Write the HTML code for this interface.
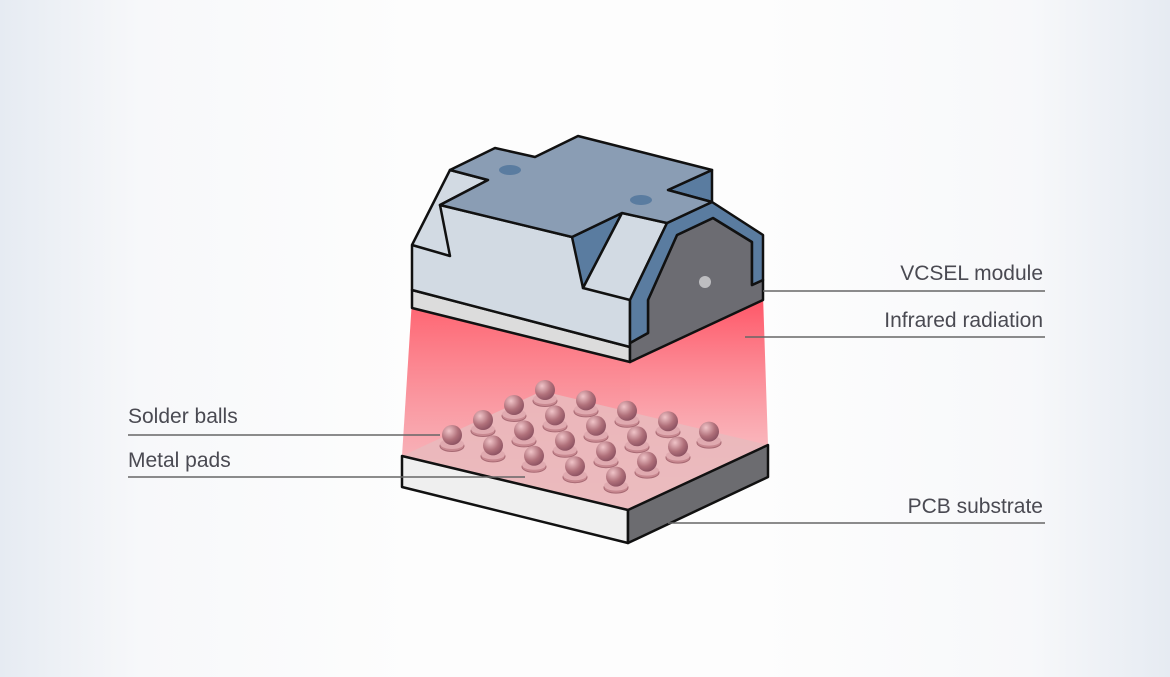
<!DOCTYPE html>
<html><head><style>
html,body{margin:0;padding:0}
body{width:1170px;height:677px;overflow:hidden;background:linear-gradient(90deg,#e6ebf2 0%,#f7f8fa 12%,#fdfdfd 35%,#fdfdfd 65%,#f7f8fa 88%,#e6ebf2 100%);font-family:"Liberation Sans",sans-serif}
.t{position:absolute;font-size:21px;color:#4a4a52;white-space:nowrap}
</style></head><body>
<svg width="1170" height="677" style="position:absolute;left:0;top:0">
<defs>
<linearGradient id="beam" x1="0" y1="0" x2="0" y2="1">
<stop offset="0" stop-color="#ff5a68" stop-opacity="0.95"/>
<stop offset="1" stop-color="#f3a0a8" stop-opacity="0.6"/>
</linearGradient>
<linearGradient id="beamR" x1="0" y1="0" x2="0" y2="1">
<stop offset="0" stop-color="#ff4a5c" stop-opacity="0.95"/>
<stop offset="1" stop-color="#f5a8ae" stop-opacity="0.5"/>
</linearGradient>
<radialGradient id="ball" cx="0.35" cy="0.3" r="0.75">
<stop offset="0" stop-color="#f0c4c8"/><stop offset="0.6" stop-color="#b0707a"/><stop offset="1" stop-color="#8a5060"/>
</radialGradient>
</defs>
<!-- beam -->
<polygon points="412,300 630,355 630,510 402,456" fill="url(#beam)"/>
<polygon points="630,355 763,295 768,445 630,510" fill="url(#beamR)"/>
<!-- PCB -->
<polygon points="402,456 542,391 768,445 628,510" fill="#e9b9bd" opacity="0.9"/>
<polygon points="402,456 628,510 628,543 402,487" fill="#efefef" stroke="#111" stroke-width="2.5" stroke-linejoin="round"/>
<polygon points="628,510 768,445 768,477 628,543" fill="#6c6c70" stroke="#111" stroke-width="2.5" stroke-linejoin="round"/>
<g id="balls"></g>
<!-- module -->
<g stroke="#111" stroke-width="2.5" stroke-linejoin="round">
<polygon points="412,290 630,347 630,362 412,308" fill="#dcdcdc"/>
<polygon points="412,245 450,170 488,180 440,205 572,237 622,213 667,223 630,300 630,347 412,290" fill="#d2dae3"/>
<polyline points="440,205 450,256 412,245" fill="none"/>
<polygon points="572,237 622,213 583,288" fill="#5a7ca0"/>
<polygon points="622,213 667,223 630,300 583,288" fill="#d2dae3"/>
<polygon points="630,343 648,333 648,300 677,235 713,218 752,242 752,285 763,280 763,300 630,362" fill="#6c6c72"/>
<polygon points="630,300 667,223 712,202 763,235 763,280 752,285 752,242 713,218 677,235 648,300 648,333 630,343" fill="#5a7ca0"/>
<polygon points="712,170 668,190 712,202" fill="#5a7ca0"/>
<polygon points="450,170 495,148 535,157 578,136 712,170 668,190 712,202 667,223 622,213 572,237 440,205 488,180" fill="#8a9db4"/>
</g>
<ellipse cx="510" cy="170" rx="11" ry="5" fill="#5a7ca0"/>
<ellipse cx="641" cy="200" rx="11" ry="5" fill="#5a7ca0"/>
<circle cx="705" cy="282" r="6" fill="#bdbdc0"/>
<!-- leader lines -->
<g stroke="#666" stroke-width="1.5">
<line x1="763" y1="291" x2="1045" y2="291"/>
<line x1="745" y1="337" x2="1045" y2="337"/>
<line x1="128" y1="435" x2="440" y2="435"/>
<line x1="128" y1="477" x2="525" y2="477"/>
<line x1="668" y1="523" x2="1045" y2="523"/>
</g>
</svg>
<div class="t" style="right:127px;top:262px">VCSEL module</div>
<div class="t" style="right:127px;top:309px">Infrared radiation</div>
<div class="t" style="left:128px;top:405px">Solder balls</div>
<div class="t" style="left:128px;top:449px">Metal pads</div>
<div class="t" style="right:127px;top:495px">PCB substrate</div>
<script>
var g=document.getElementById('balls'),s='';
for(var r=3;r>=0;r--)for(var c=0;c<5;c++){
var x=452+41*c+31*r,y=438+10.4*c-15*r;
s+='<ellipse cx="'+x+'" cy="'+(y+8)+'" rx="12" ry="5.5" fill="#c88890" stroke="#a86a74" stroke-width="1"/>';
s+='<ellipse cx="'+x+'" cy="'+(y+6)+'" rx="12" ry="5" fill="#e0aab0"/>';
s+='<circle cx="'+x+'" cy="'+(y-3)+'" r="10" fill="url(#ball)"/>';
}
g.innerHTML=s;
</script>
</body></html>
